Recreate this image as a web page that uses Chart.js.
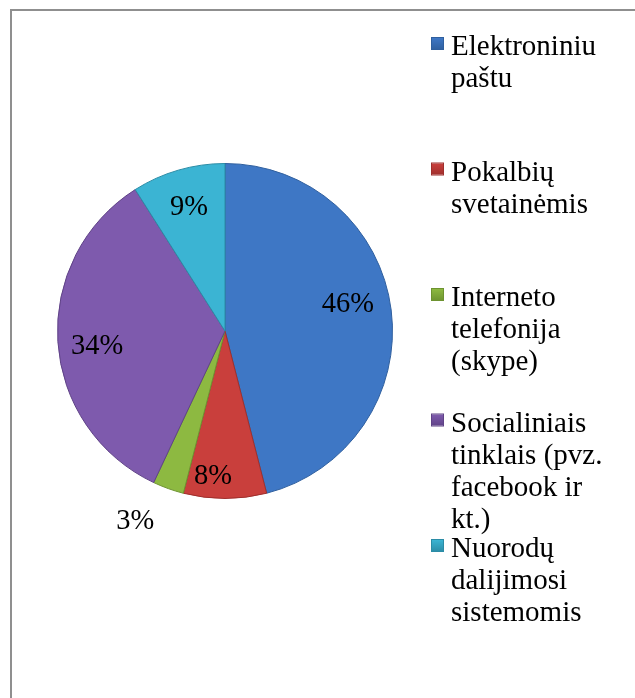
<!DOCTYPE html>
<html>
<head>
<meta charset="utf-8">
<script src="https://cdn.jsdelivr.net/npm/chart.js@4/dist/chart.umd.min.js"></script>
<style>
html,body{margin:0;padding:0;background:#fff;}
#wrap{position:relative;width:635px;height:698px;overflow:hidden;}
#frame{position:absolute;left:10px;top:9px;width:700px;height:800px;border-left:2px solid #8f8f8f;border-top:2px solid #8f8f8f;}
canvas{position:absolute;left:0;top:0;}
</style>
</head>
<body>
<div id="wrap">
<div id="frame"></div>
<canvas id="myChart" width="635" height="698"></canvas>
</div>
<script>
// data
var categories = ["Elektroniniu\npaštu", "Pokalbių\nsvetainėmis", "Interneto\ntelefonija\n(skype)", "Socialiniais\ntinklais (pvz.\nfacebook ir\nkt.)", "Nuorodų\ndalijimosi\nsistemomis"];
var values = [46, 8, 3, 34, 9];
var colors = ["#3e77c5", "#c93f3c", "#8db941", "#7e5aad", "#3bb4d3"];
var edges = ["#2f5f9e", "#9e2f2c", "#6d9330", "#5f4286", "#2b8ca6"];

// label placement (radius fraction, angle tweak in deg)
var labelR = [0.75, 0.87, 1.26, 0.77, 0.77];
var labelTurn = [-4.8, 4.7, 5.4, -3.5, 0];

var serif = "'Liberation Serif','Times New Roman',serif";

var pieLabels = {
  id: "pieLabels",
  afterDatasetsDraw: function(chart){
    var ctx = chart.ctx;
    var arcs = chart.getDatasetMeta(0).data;
    ctx.save();
    ctx.font = "28.5px " + serif;
    ctx.fillStyle = "#000";
    ctx.textAlign = "center";
    ctx.textBaseline = "middle";
    arcs.forEach(function(a, i){
      var mid = (a.startAngle + a.endAngle) / 2 + labelTurn[i] * Math.PI / 180;
      var r = a.outerRadius * labelR[i];
      ctx.fillText(values[i] + "%", a.x + Math.cos(mid) * r, a.y + Math.sin(mid) * r);
    });
    ctx.restore();
  }
};

var sideLegend = {
  id: "sideLegend",
  afterDraw: function(chart){
    var ctx = chart.ctx;
    ctx.save();
    ctx.font = "29px " + serif;
    ctx.textBaseline = "alphabetic";
    ctx.textAlign = "left";
    categories.forEach(function(c, i){
      var base = 55 + i * 125.5;
      var g = ctx.createLinearGradient(0, base - 17, 0, base - 5);
      g.addColorStop(0, colors[i]);
      g.addColorStop(1, edges[i]);
      ctx.fillStyle = g;
      ctx.fillRect(432, base - 17, 11, 11);
      ctx.strokeStyle = edges[i];
      ctx.lineWidth = 1;
      ctx.strokeRect(431.5, base - 17.5, 12, 12);
      ctx.fillStyle = "#000";
      c.split("\n").forEach(function(line, j){
        ctx.fillText(line, 451, base + j * 32);
      });
    });
    ctx.restore();
  }
};

var ctx = document.getElementById("myChart");
var chart = new Chart(ctx, {
  type: "pie",
  data: {
    labels: categories,
    datasets: [{
      data: values,
      backgroundColor: colors,
      borderColor: edges,
      borderWidth: 1
    }]
  },
  options: {
    responsive: false,
    animation: false,
    layout: {padding: {left: 57, right: 242, top: 163, bottom: 199}},
    plugins: {
      legend: {display: false},
      tooltip: {enabled: false}
    }
  },
  plugins: [pieLabels, sideLegend]
});
</script>
</body>
</html>
